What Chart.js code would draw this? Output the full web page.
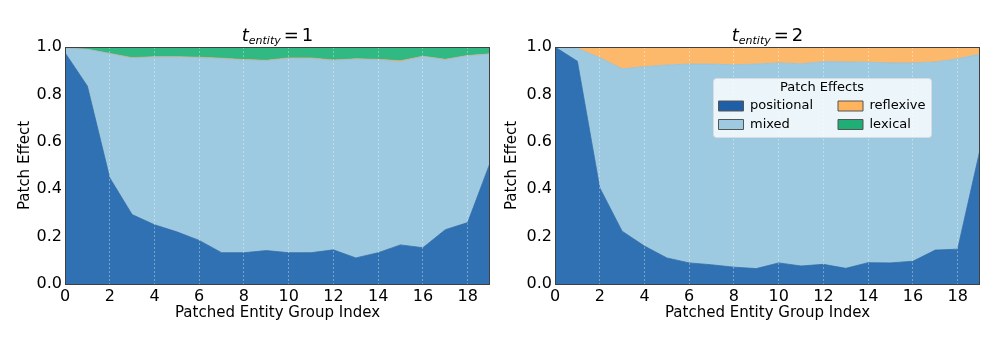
<!DOCTYPE html>
<html>
<head>
<meta charset="utf-8">
<script src="https://cdn.jsdelivr.net/npm/chart.js@4.4.1/dist/chart.umd.min.js"></script>
<style>
html, body { margin: 0; padding: 0; background: #fff; }
#wrap { position: relative; width: 997px; height: 349px; }
canvas { position: absolute; top: 0; }
#c1 { left: 0; }
#c2 { left: 500px; }
</style>
</head>
<body>
<div id="wrap">
  <canvas id="c1" width="500" height="349"></canvas>
  <canvas id="c2" width="497" height="349"></canvas>
</div>
<script>
// ---- data ----
const groupIndex = [0, 1, 2, 3, 4, 5, 6, 7, 8, 9, 10, 11, 12, 13, 14, 15, 16, 17, 18, 19];
const xTickValues = [0, 2, 4, 6, 8, 10, 12, 14, 16, 18];
const yTickValues = [0, 0.2, 0.4, 0.6, 0.8, 1.0];
const seriesNames = ["positional", "mixed", "reflexive", "lexical"];
const tEntity = [1, 2];

// t_entity = 1
const positional1 = [0.976, 0.835, 0.448, 0.293, 0.250, 0.220, 0.184, 0.132, 0.132, 0.141, 0.132, 0.132, 0.144, 0.110, 0.132, 0.165, 0.153, 0.229, 0.259, 0.510];
const mixed1      = [0.019, 0.155, 0.524, 0.660, 0.708, 0.738, 0.771, 0.819, 0.813, 0.801, 0.820, 0.820, 0.799, 0.839, 0.814, 0.773, 0.807, 0.717, 0.704, 0.460];
const reflexive1  = [0.000, 0.000, 0.001, 0.002, 0.001, 0.001, 0.002, 0.002, 0.002, 0.002, 0.002, 0.002, 0.002, 0.001, 0.002, 0.004, 0.001, 0.002, 0.001, 0.001];
const lexical1    = [0.005, 0.010, 0.027, 0.045, 0.041, 0.041, 0.043, 0.047, 0.053, 0.056, 0.046, 0.046, 0.055, 0.050, 0.052, 0.058, 0.039, 0.052, 0.036, 0.029];

// t_entity = 2
const positional2 = [1.000, 0.940, 0.406, 0.223, 0.160, 0.110, 0.089, 0.081, 0.071, 0.065, 0.089, 0.076, 0.083, 0.066, 0.090, 0.089, 0.096, 0.143, 0.147, 0.566];
const mixed2      = [0.000, 0.055, 0.549, 0.685, 0.757, 0.814, 0.839, 0.847, 0.854, 0.863, 0.844, 0.853, 0.855, 0.871, 0.846, 0.844, 0.837, 0.794, 0.803, 0.404];
const reflexive2  = [0.000, 0.005, 0.045, 0.092, 0.083, 0.076, 0.072, 0.072, 0.075, 0.072, 0.067, 0.071, 0.062, 0.063, 0.064, 0.067, 0.067, 0.063, 0.050, 0.030];
const lexical2    = [0.000, 0.000, 0.000, 0.000, 0.000, 0.000, 0.000, 0.000, 0.000, 0.000, 0.000, 0.000, 0.000, 0.000, 0.000, 0.000, 0.000, 0.000, 0.000, 0.000];

// ---- styles ----
const fillColors   = ["#2f71b2", "#9ecae1", "#fdb96b", "#31b983"];
const edgeColors   = ["#2f6aa6", "#94bfd6", "#f0a050", "#2aa873"];
const swatchColors = ["#1f5fa8", "#9ecae1", "#fdb45c", "#1fae76"];

Chart.defaults.font.family = '"DejaVu Sans", sans-serif';
Chart.defaults.color = "#000";

// legend box spot (canvas coords of the right panel)
const LEG = { x: 213, y: 78, w: 218, colStep: 119.5 };

const panelDecor = {
    id: "panelDecor",
    afterLayout(chart) {
        const lg = chart.legend;
        if (!lg || !chart.options.plugins.legend.display) return;
        const p = lg.options.labels.padding;
        lg.maxHeight = 1000;
        lg.fit();
        const th = lg._computeTitleHeight();
        const ih = lg.legendHitBoxes[0].height;
        lg.maxHeight = th + 2 * ih + 3 * p + 0.5;
        lg.fit();
        // two columns, spaced like the original
        lg.columnSizes[0].width = LEG.colStep - p;
        lg.left = LEG.x;
        lg.top = LEG.y;
        lg.width = LEG.w;
        lg.height = lg.maxHeight;
        lg.right = lg.left + lg.width;
        lg.bottom = lg.top + lg.height;
    },
    afterDraw(chart) {
        const ctx = chart.ctx;
        const ca = chart.chartArea;

        // axes frame
        ctx.save();
        ctx.strokeStyle = "#404040";
        ctx.lineWidth = 1;
        ctx.strokeRect(ca.left + 0.5, ca.top + 0.5, ca.right - ca.left - 1, ca.bottom - ca.top);
        ctx.restore();

        // title: t_entity = n
        const n = String(chart.options.plugins.panelDecor.t);
        const base = 40.5;
        ctx.save();
        ctx.fillStyle = "#000";
        ctx.textBaseline = "alphabetic";
        ctx.textAlign = "left";
        const fMain = 'italic 18px "DejaVu Sans"';
        const fSub = 'italic 11px "DejaVu Sans"';
        const fRest = '18px "DejaVu Sans"';
        const gap = 3;
        ctx.font = fMain; const w1 = ctx.measureText("t").width;
        ctx.font = fSub;  const w2 = ctx.measureText("entity").width;
        ctx.font = fRest;
        const wEq = ctx.measureText("=").width;
        const wN = ctx.measureText(n).width;
        const total = w1 + w2 + gap + wEq + gap + wN;
        let x = (ca.left + ca.right) / 2 - total / 2;
        ctx.font = fMain; ctx.fillText("t", x, base); x += w1;
        ctx.font = fSub;  ctx.fillText("entity", x, base + 3); x += w2 + gap;
        ctx.font = fRest; ctx.fillText("=", x, base); x += wEq + gap;
        ctx.fillText(n, x, base);
        ctx.restore();

        // legend on top of everything
        const lg = chart.legend;
        if (lg && chart.options.plugins.legend.display) {
            ctx.save();
            ctx.beginPath();
            ctx.roundRect(lg.left + 0.5, lg.top + 0.5, lg.width, lg.height, 3);
            ctx.fillStyle = "rgba(255,255,255,0.8)";
            ctx.fill();
            ctx.strokeStyle = "#d6dde3";
            ctx.lineWidth = 1;
            ctx.stroke();
            ctx.restore();
            lg.draw();
        }
    }
};

function makeChart(canvasId, t, series, yWidth, yTitlePad, padRight, showLegend) {
    const datasets = series.map((vals, i) => ({
        label: seriesNames[i],
        data: vals.map((v, k) => ({ x: groupIndex[k], y: v })),
        fill: i === 0 ? "origin" : "-1",
        backgroundColor: fillColors[i],
        borderColor: edgeColors[i],
        borderWidth: 0.8,
        pointRadius: 0,
        tension: 0
    }));

    return new Chart(document.getElementById(canvasId), {
        type: "line",
        data: { datasets },
        options: {
            responsive: false,
            animation: false,
            events: [],
            layout: { padding: { left: 0, right: padRight, top: 47, bottom: 0 } },
            scales: {
                x: {
                    type: "linear",
                    min: 0,
                    max: 19,
                    afterBuildTicks: s => { s.ticks = xTickValues.map(v => ({ value: v })); },
                    afterFit: s => { s.height = 65; },
                    ticks: { font: { size: 16 }, color: "#000", padding: 3, maxRotation: 0, autoSkip: false },
                    grid: { z: 1, color: "rgba(255,255,255,0.35)", lineWidth: 1, drawTicks: false },
                    border: { display: false, dash: [2, 2] },
                    title: {
                        display: true, text: "Patched Entity Group Index",
                        font: { size: 15 }, color: "#000", padding: { top: 0, bottom: 27 }
                    }
                },
                y: {
                    stacked: true,
                    min: 0,
                    max: 1,
                    afterBuildTicks: s => { s.ticks = yTickValues.map(v => ({ value: v })); },
                    afterFit: s => { s.width = yWidth; },
                    ticks: { font: { size: 16 }, color: "#000", padding: 3, callback: v => v.toFixed(1) },
                    grid: { display: false, drawTicks: false },
                    border: { display: false },
                    title: {
                        display: true, text: "Patch Effect",
                        font: { size: 15 }, color: "#000", padding: { top: yTitlePad, bottom: 0 }
                    }
                }
            },
            plugins: {
                title: { display: false },
                tooltip: { enabled: false },
                panelDecor: { t: t },
                legend: {
                    display: showLegend,
                    position: "chartArea",
                    align: "start",
                    title: {
                        display: true, text: "Patch Effects", color: "#000",
                        font: { size: 13, lineHeight: 1 }, padding: { top: 3, bottom: 0 }
                    },
                    labels: {
                        boxWidth: 25,
                        boxHeight: 10,
                        padding: 5.5,
                        color: "#000",
                        font: { size: 13 },
                        generateLabels: chart => chart.data.datasets.map((ds, i) => ({
                            text: ds.label,
                            fillStyle: swatchColors[i],
                            strokeStyle: "#555",
                            lineWidth: 1,
                            fontColor: "#000",
                            hidden: false,
                            datasetIndex: i
                        }))
                    }
                }
            }
        },
        plugins: [panelDecor]
    });
}

makeChart("c1", tEntity[0], [positional1, mixed1, reflexive1, lexical1], 65, 16, 10, false);
makeChart("c2", tEntity[1], [positional2, mixed2, reflexive2, lexical2], 55, 3, 17, true);
</script>
</body>
</html>
